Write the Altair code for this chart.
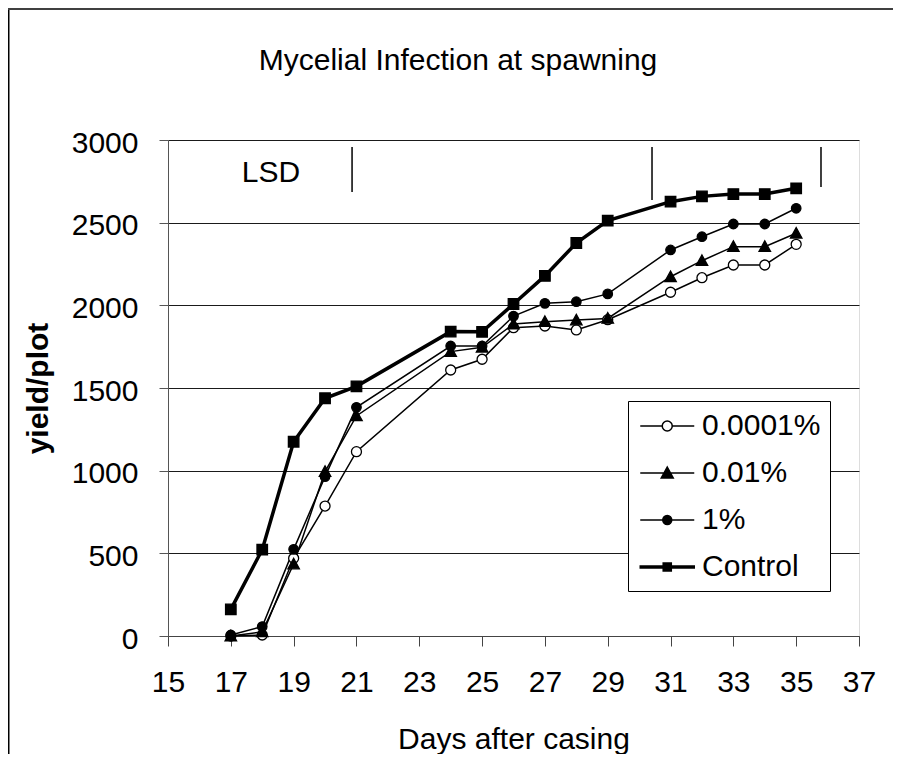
import altair as alt
import pandas as pd

# ---------------- data ----------------
days = [17, 18, 19, 20, 21, 24, 25, 26, 27, 28, 29, 31, 32, 33, 34, 35]
series_names = ["0.0001%", "0.01%", "1%", "Control"]
y_00001 = [0, 6, 470, 786, 1115, 1609, 1674, 1865, 1875, 1851, 1913, 2079, 2167, 2244, 2244, 2369]
y_001 = [0, 25, 435, 994, 1331, 1720, 1746, 1887, 1901, 1911, 1921, 2173, 2270, 2355, 2355, 2436]
y_1 = [6, 57, 524, 964, 1383, 1754, 1754, 1935, 2012, 2022, 2069, 2335, 2415, 2492, 2492, 2587]
y_control = [161, 522, 1175, 1438, 1510, 1841, 1840, 2008, 2178, 2377, 2512, 2627, 2659, 2673, 2673, 2708]

x_ticks = list(range(15, 38, 2))
y_ticks = list(range(0, 3001, 500))

lsd_days = [20.86, 30.41, 35.79]
lsd_top = [2958, 2958, 2958]
lsd_bottom = [2686, 2637, 2716]
lsd_label = ["LSD"]
lsd_label_day = [18.28]
lsd_label_yield = [2800]

title_text = "Mycelial Infection at spawning"

FONT = "Liberation Sans"

rows = []
for name, vals in zip(series_names, [y_00001, y_001, y_1, y_control]):
    for d, v in zip(days, vals):
        rows.append({"Day": d, "Yield": v, "Series": name})
df = pd.DataFrame(rows)

lsd_df = pd.DataFrame({"Day": lsd_days, "Yield": lsd_top, "Bottom": lsd_bottom})
lsd_text_df = pd.DataFrame({"Day": lsd_label_day, "Yield": lsd_label_yield, "Label": lsd_label})

# ---------------- scales / axes ----------------
x_axis = alt.Axis(values=x_ticks, title="Days after casing", grid=False, tickSize=10,
                  tickColor="#444", domainColor="#444", labelFontSize=30, labelFont=FONT,
                  labelColor="black", labelPadding=21, labelFlush=False, labelOverlap=False,
                  titleFontSize=30, titleFont=FONT, titleFontWeight="normal", titleColor="black",
                  titleY=112, titleBaseline="alphabetic")
y_axis = alt.Axis(values=y_ticks, format="d", title="yield/plot", grid=True, gridColor="#1a1a1a", gridWidth=1,
                  tickSize=9, tickColor="#555", domainColor="#555", labelFontSize=30, labelFont=FONT,
                  labelColor="black", labelPadding=21, labelOffset=3, labelFlush=False, labelOverlap=False,
                  titleFontSize=30, titleFont=FONT, titleFontWeight="bold", titleColor="black",
                  titleX=-130, titleY=248, titleAlign="center", titleBaseline="middle")

x_scale = alt.Scale(domain=[15, 37], nice=False, zero=False)
y_scale = alt.Scale(domain=[0, 3000], nice=False)

def X(field="Day"):
    return alt.X(f"{field}:Q", scale=x_scale, axis=x_axis)

def Y(field="Yield"):
    return alt.Y(f"{field}:Q", scale=y_scale, axis=y_axis)

fill_range = ["white", "black", "black", "black"]
stroke_range = ["black", "black", "black", "black"]

marker_paths = [
    "M-1,0A1,1 0 1,0 1,0A1,1 0 1,0 -1,0Z",
    "M0,-1.15L1.15,0.95L-1.15,0.95Z",
    "M-0.95,0A0.95,0.95 0 1,0 0.95,0A0.95,0.95 0 1,0 -0.95,0Z",
    "M-1.05,-1.05H1.05V1.05H-1.05Z",
]

c = 0.95
legend_paths = [
    f"M-0.85,0H{c-0.333:.3f}M{c+0.333:.3f},0H2.75M{c-0.333:.3f},0A0.333,0.333 0 1,0 {c+0.333:.3f},0A0.333,0.333 0 1,0 {c-0.333:.3f},0Z",
    f"M-0.85,0H2.75M{c:.3f},-0.4L{c+0.4:.3f},0.333L{c-0.4:.3f},0.333Z",
    f"M-0.85,0H2.75M{c-0.3:.3f},0A0.3,0.3 0 1,0 {c+0.3:.3f},0A0.3,0.3 0 1,0 {c-0.3:.3f},0Z",
    f"M-0.85,-0.06H2.75V0.06H-0.85ZM{c-0.27:.3f},-0.27H{c+0.27:.3f}V0.27H{c-0.27:.3f}Z",
]

# ---------------- layers ----------------
thin_lines = alt.Chart(df).transform_filter("datum.Series != 'Control'").mark_line(
    color="black", strokeWidth=1.5
).encode(x=X(), y=Y(), detail="Series:N")

thick_line = alt.Chart(df).transform_filter("datum.Series == 'Control'").mark_line(
    color="black", strokeWidth=3.5
).encode(x=X(), y=Y())

points = alt.Chart(df).mark_point(filled=True, stroke="black", strokeWidth=1.3, size=100, opacity=1).encode(
    x=X(), y=Y(),
    shape=alt.Shape("Series:N", scale=alt.Scale(domain=series_names, range=marker_paths), legend=None),
    fill=alt.Fill("Series:N", scale=alt.Scale(domain=series_names, range=fill_range), legend=None),
)

legend_def = alt.Legend(
    title=None, orient="none", legendX=460, legendY=261, direction="vertical",
    padding=9, strokeColor="black", fillColor="white", cornerRadius=0,
    labelFontSize=30, labelFont=FONT, labelColor="black", labelOffset=33,
    symbolSize=900, rowPadding=16, symbolStrokeColor="black", symbolStrokeWidth=1.5,
)

legend_layer = alt.Chart(df).transform_filter("false").mark_point(
    filled=True, stroke="black", strokeWidth=1.5, size=900, opacity=1
).encode(
    x=X(), y=Y(),
    shape=alt.Shape("Series:N", scale=alt.Scale(domain=series_names, range=legend_paths), legend=legend_def),
    fill=alt.Fill("Series:N", scale=alt.Scale(domain=series_names, range=fill_range), legend=legend_def),
    stroke=alt.Stroke("Series:N", scale=alt.Scale(domain=series_names, range=stroke_range), legend=legend_def),
)

lsd_rules = alt.Chart(lsd_df).mark_rule(color="black", strokeWidth=1.5).encode(
    x=X(), y=Y(), y2="Bottom:Q"
)

lsd_text = alt.Chart(lsd_text_df).mark_text(
    font=FONT, fontSize=30, color="black", align="center", baseline="middle"
).encode(x=X(), y=Y(), text="Label:N")

title_mark = alt.Chart(pd.DataFrame({"t": [title_text]})).mark_text(
    font=FONT, fontSize=30, color="black", align="center", baseline="alphabetic"
).encode(text="t:N", x=alt.value(290), y=alt.value(-70))

deco = pd.DataFrame({"k": [0]})
left_border = alt.Chart(deco).mark_rect(color="black", opacity=1).encode(
    x=alt.value(-160), x2=alt.value(-158.5), y=alt.value(-132), y2=alt.value(620)
)
top_border = alt.Chart(deco).mark_rect(color="#404040", opacity=1).encode(
    x=alt.value(-160), x2=alt.value(730), y=alt.value(-132), y2=alt.value(-130)
)

chart = alt.layer(
    thin_lines, thick_line, points, legend_layer, lsd_rules, lsd_text, title_mark, left_border, top_border
).resolve_scale(
    shape="independent", fill="independent", stroke="independent"
).properties(
    width=691, height=496,
    padding={"left": 160, "top": 132, "right": 34, "bottom": 118},
    autosize=alt.AutoSizeParams(type="none"),
).configure_view(
    stroke="#888888", strokeWidth=1
).configure(
    background="white", font=FONT
)

chart.save("out.html", embed_options={"renderer": "svg", "actions": False})
